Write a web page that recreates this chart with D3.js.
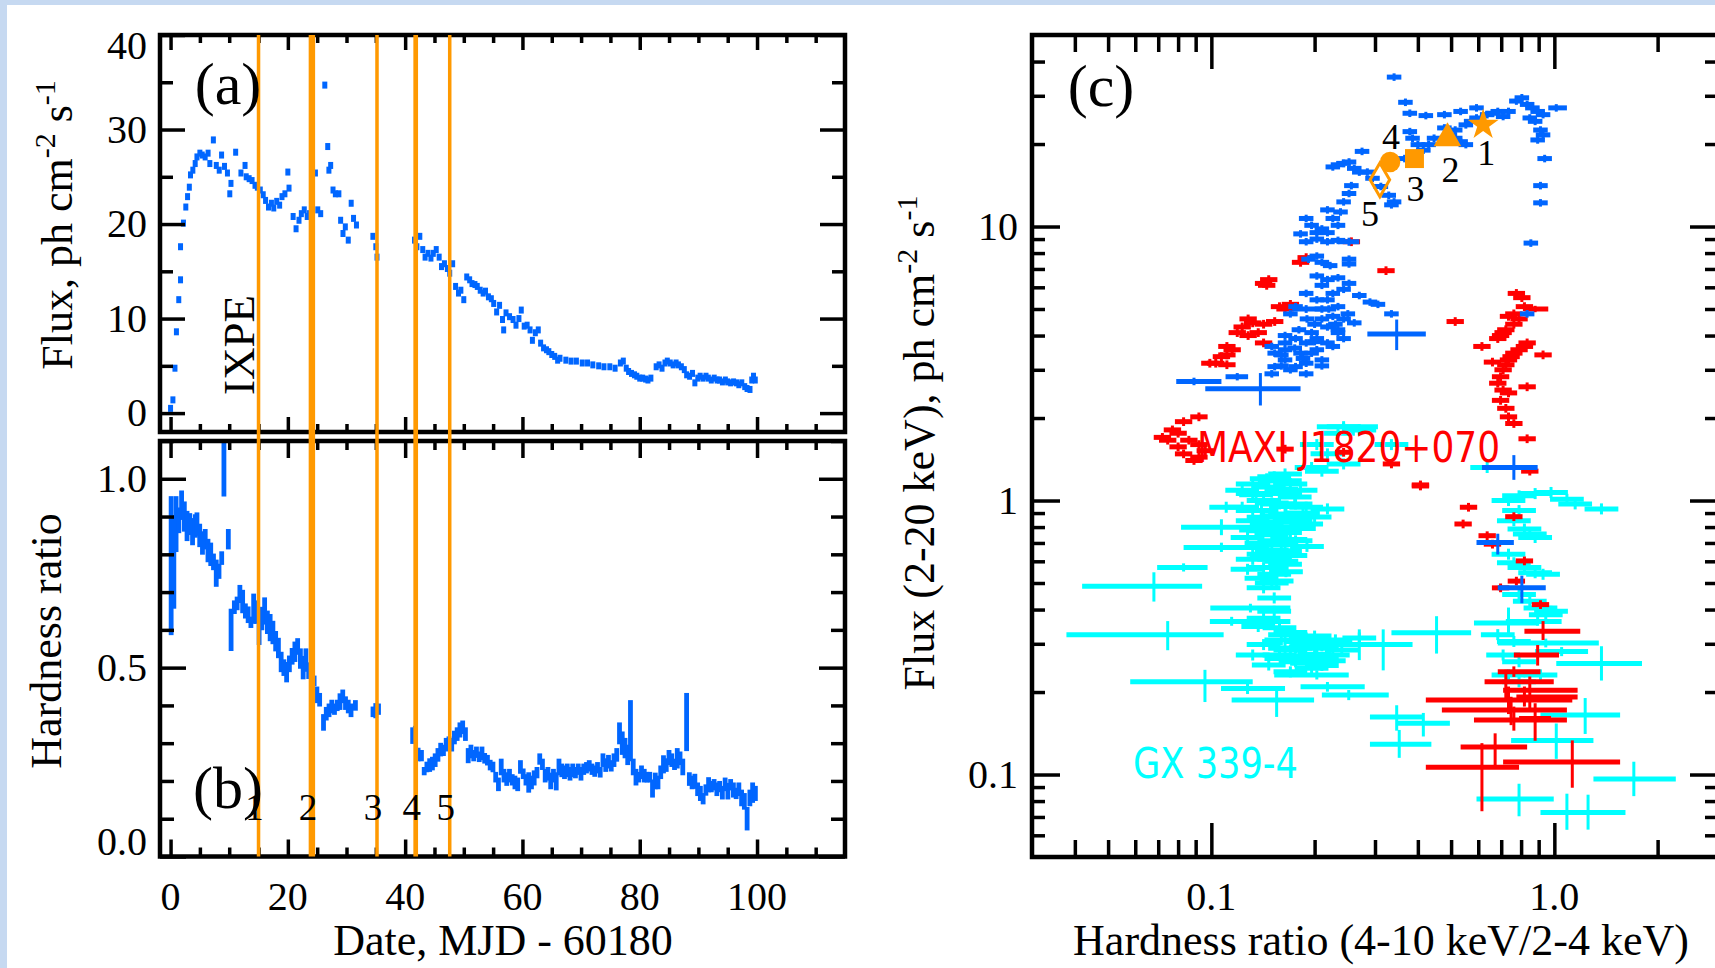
<!DOCTYPE html>
<html lang="en">
<head>
<meta charset="utf-8">
<title>Light curve, hardness ratio and HID</title>
<script src="https://cdn.jsdelivr.net/npm/d3@7"></script>
<style>
  body { margin: 0; background: #c6d9f1; }
  svg { display: block; }
  text { font-family: "Liberation Serif", "Times New Roman", serif; fill: #000; }
  .frame { fill: none; stroke: #000; stroke-width: 4.5; }
  .tick-lbl { font-size: 40px; }
  .title { font-size: 44px; }
  .src { font-family: "Liberation Sans Narrow", "DejaVu Sans Condensed", "Open Sans", sans-serif; font-size: 42px; }
</style>
</head>
<body>
<script>
// ---- panel (a): flux light curve [day, flux] ----
var lightCurve = [[0.0,0.5],[0.4,1.4],[0.75,4.75],[1.0,8.6],[1.4,12.0],[1.7,14.1],[1.7,17.6],[2.2,20.1],[2.6,21.8],[2.9,22.9],[3.2,23.9],[3.4,25.2],[3.8,25.7],[4.2,26.4],[4.5,27.1],[5.0,27.5],[5.4,27.3],[5.9,27.1],[6.4,27.5],[6.7,26.4],[7.3,28.9],[7.8,26.2],[8.3,25.7],[8.7,27.3],[9.2,26.1],[9.7,25.4],[10.1,23.2],[10.3,24.3],[11.1,27.6],[12.0,25.4],[12.7,26.2],[12.9,25.0],[13.4,24.8],[13.9,24.6],[14.4,24.1],[14.8,23.9],[15.3,23.6],[15.8,23.1],[16.2,22.5],[16.7,21.8],[17.2,22.2],[17.6,21.7],[18.1,22.4],[18.6,22.0],[19.0,22.9],[19.5,23.2],[20.0,25.5],[20.2,23.8],[20.9,20.8],[21.4,19.5],[21.9,20.4],[22.3,21.1],[22.8,21.5],[23.3,20.8],[23.7,21.1],[24.2,20.2],[24.7,25.4],[25.1,21.5],[25.6,21.1],[26.3,34.7],[26.8,28.2],[27.0,25.7],[27.3,26.2],[27.7,23.6],[28.1,23.2],[28.7,23.2],[29.0,20.4],[29.4,19.0],[29.8,19.7],[30.3,18.3],[30.8,22.2],[31.2,20.6],[31.7,19.9],[34.5,18.7],[35.0,17.6],[35.2,16.5],[41.6,18.3],[42.0,17.6],[42.5,18.7],[43.0,17.3],[43.4,16.5],[43.9,16.9],[44.4,16.4],[44.8,16.9],[45.3,17.3],[45.8,16.5],[46.2,15.5],[46.7,15.8],[47.2,15.3],[47.6,14.8],[48.1,15.8],[48.6,13.4],[49.1,12.7],[49.5,13.0],[50.0,12.0],[50.5,14.4],[51.0,14.1],[51.4,13.7],[51.9,13.6],[52.3,13.4],[52.8,13.0],[53.3,12.7],[53.7,12.9],[54.2,12.3],[54.7,12.1],[55.1,11.6],[55.6,10.7],[56.1,11.4],[56.6,9.9],[56.8,8.8],[57.2,10.6],[57.8,10.2],[58.4,9.9],[58.9,9.3],[59.4,10.0],[59.8,10.9],[60.3,9.2],[60.8,9.3],[61.3,8.8],[61.7,7.7],[62.2,8.5],[62.7,8.8],[63.1,7.4],[63.6,6.9],[64.1,6.7],[64.5,6.5],[65.0,6.2],[65.5,6.0],[66.0,5.6],[66.4,5.8],[67.4,5.6],[68.3,5.5],[69.2,5.5],[70.2,5.3],[71.1,5.3],[72.0,5.1],[73.0,5.0],[73.9,4.9],[74.9,4.9],[75.8,4.75],[76.7,5.3],[77.2,5.5],[77.7,4.75],[78.1,4.4],[78.6,4.2],[79.1,4.05],[79.5,3.9],[80.0,3.7],[80.5,3.7],[81.0,3.6],[81.4,3.5],[81.9,3.7],[82.8,4.9],[83.3,5.1],[83.8,4.75],[84.3,5.3],[84.7,5.5],[85.2,5.3],[85.7,5.1],[86.2,5.3],[86.6,5.1],[87.1,4.9],[87.6,4.6],[88.0,4.05],[88.5,3.9],[89.0,4.2],[89.4,3.2],[89.9,3.7],[90.3,3.9],[90.8,3.7],[91.3,3.9],[91.7,3.7],[92.2,3.5],[92.7,3.7],[93.2,3.5],[93.6,3.5],[94.1,3.3],[94.6,3.5],[95.0,3.3],[95.5,3.2],[96.0,3.3],[96.5,3.2],[96.9,3.0],[97.4,3.2],[97.9,2.8],[98.3,2.6],[98.8,2.5],[99.1,3.5],[99.4,3.9],[99.7,3.5]];

// ---- panel (b): hardness ratio [day, ratio, error] ----
var hardness = [[0.1,0.77,0.18],[0.56,0.78,0.12],[0.94,0.88,0.07],[1.41,0.89,0.03],[1.88,0.93,0.035],[2.35,0.90,0.036],[2.81,0.875,0.036],[3.28,0.88,0.025],[3.75,0.86,0.032],[4.22,0.875,0.027],[4.5,0.88,0.027],[4.97,0.85,0.027],[5.44,0.83,0.027],[5.91,0.84,0.023],[6.38,0.81,0.027],[6.85,0.80,0.027],[7.32,0.78,0.018],[7.79,0.75,0.032],[8.26,0.755,0.016],[8.72,0.79,0.014],[9.1,1.025,0.068],[9.85,0.84,0.023],[10.32,0.60,0.052],[10.88,0.66,0.014],[11.35,0.67,0.014],[11.82,0.695,0.02],[12.29,0.675,0.027],[12.76,0.65,0.016],[13.23,0.64,0.018],[13.7,0.62,0.011],[14.17,0.656,0.036],[14.63,0.647,0.027],[15.1,0.60,0.036],[15.57,0.63,0.027],[16.04,0.65,0.032],[16.51,0.62,0.027],[16.98,0.606,0.032],[17.45,0.593,0.027],[17.92,0.57,0.023],[18.39,0.552,0.023],[18.86,0.515,0.023],[19.32,0.50,0.018],[19.79,0.488,0.023],[20.26,0.51,0.018],[20.73,0.53,0.018],[21.2,0.542,0.023],[21.67,0.556,0.018],[22.14,0.524,0.023],[22.61,0.50,0.027],[23.08,0.52,0.027],[23.55,0.492,0.018],[24.02,0.477,0.016],[24.48,0.465,0.01],[24.95,0.428,0.018],[25.42,0.415,0.014],[26.08,0.355,0.018],[26.55,0.378,0.014],[27.02,0.387,0.014],[27.49,0.397,0.014],[27.95,0.39,0.011],[28.42,0.40,0.011],[28.89,0.41,0.018],[29.36,0.424,0.014],[29.83,0.406,0.014],[30.3,0.397,0.014],[30.77,0.387,0.014],[31.52,0.40,0.01],[34.52,0.383,0.01],[34.99,0.386,0.016],[35.46,0.39,0.011],[41.28,0.32,0.018],[41.74,0.326,0.016],[42.21,0.27,0.014],[42.78,0.267,0.011],[43.25,0.226,0.007],[43.71,0.237,0.01],[44.18,0.242,0.014],[44.65,0.246,0.014],[45.12,0.255,0.014],[45.59,0.269,0.014],[46.06,0.283,0.014],[46.53,0.281,0.011],[47.0,0.296,0.014],[47.47,0.30,0.014],[47.94,0.296,0.014],[48.4,0.315,0.014],[48.87,0.324,0.014],[49.34,0.335,0.016],[49.81,0.342,0.014],[50.28,0.324,0.014],[50.75,0.267,0.016],[51.22,0.278,0.014],[51.69,0.267,0.011],[52.16,0.276,0.011],[52.63,0.264,0.01],[53.1,0.273,0.014],[53.56,0.26,0.01],[54.03,0.255,0.01],[54.5,0.242,0.01],[54.97,0.237,0.01],[55.44,0.21,0.01],[55.91,0.191,0.014],[56.38,0.237,0.018],[56.85,0.214,0.014],[57.32,0.205,0.014],[57.79,0.214,0.014],[58.26,0.203,0.011],[58.72,0.196,0.014],[59.19,0.191,0.014],[59.66,0.237,0.014],[60.13,0.219,0.01],[60.6,0.203,0.011],[61.07,0.196,0.023],[61.54,0.196,0.014],[62.0,0.208,0.016],[62.48,0.222,0.011],[62.95,0.258,0.011],[63.41,0.244,0.011],[63.88,0.214,0.014],[64.35,0.219,0.014],[64.82,0.20,0.018],[65.29,0.214,0.014],[65.76,0.199,0.02],[66.23,0.237,0.018],[66.7,0.228,0.014],[67.17,0.223,0.014],[67.64,0.228,0.014],[68.11,0.219,0.014],[68.57,0.228,0.014],[69.04,0.222,0.011],[69.51,0.231,0.011],[69.98,0.219,0.014],[70.45,0.231,0.011],[70.92,0.235,0.011],[71.39,0.24,0.011],[71.86,0.231,0.011],[72.33,0.226,0.011],[72.8,0.235,0.011],[73.26,0.223,0.01],[73.73,0.255,0.014],[74.2,0.242,0.014],[74.67,0.251,0.014],[75.14,0.24,0.011],[75.61,0.255,0.014],[76.08,0.269,0.014],[76.55,0.326,0.025],[77.02,0.30,0.027],[77.49,0.287,0.023],[77.95,0.269,0.023],[78.42,0.333,0.077],[78.89,0.237,0.018],[79.36,0.21,0.018],[79.83,0.21,0.01],[80.3,0.223,0.014],[80.77,0.214,0.014],[81.24,0.21,0.01],[81.71,0.21,0.01],[82.18,0.18,0.02],[82.65,0.20,0.018],[83.11,0.196,0.014],[83.58,0.223,0.014],[84.05,0.244,0.02],[84.52,0.242,0.014],[84.99,0.262,0.016],[85.46,0.255,0.014],[85.93,0.244,0.011],[86.4,0.26,0.023],[86.87,0.26,0.014],[87.34,0.237,0.018],[87.99,0.356,0.073],[88.46,0.205,0.014],[88.93,0.196,0.014],[89.4,0.199,0.016],[89.87,0.178,0.014],[90.34,0.167,0.016],[90.81,0.153,0.011],[91.28,0.176,0.011],[91.74,0.19,0.016],[92.21,0.185,0.011],[92.68,0.19,0.011],[93.15,0.178,0.014],[93.62,0.185,0.011],[94.09,0.169,0.014],[94.56,0.191,0.014],[95.03,0.173,0.018],[95.5,0.19,0.011],[95.97,0.176,0.016],[96.44,0.167,0.011],[96.9,0.178,0.014],[97.37,0.155,0.018],[97.84,0.146,0.018],[98.31,0.10,0.027],[98.78,0.155,0.018],[99.25,0.169,0.023],[99.72,0.167,0.016]];

// IXPE observation windows [start, end] (days) and their labels
var ixpeWindows = [[14.7,15.3],[23.55,24.65],[34.9,35.5],[41.4,42.2],[47.3,47.9]];
var ixpeLabels = ["1","2","3","4","5"];

// ---- panel (c): hardness-intensity diagram ----
// IXPE epochs [hardness, flux]
var ixpePoints = [[0.62,23.5],[0.488,21.0],[0.391,17.7],[0.332,17.2],[0.31,14.8]];
var ixpeShapes = ["star","triangle","square","circle","diamond"];

// Swift J1727.8-1613 (blue): [hardness, flux] and [hr, hrLo, hrHi, flux, fLo, fHi]
var swiftPts = [[0.341,35.1],[0.368,28.4],[0.379,25.9],[0.422,25.4],[0.478,25.6],[0.533,26.3],[0.593,27.1],[0.514,22.5],[0.552,23.5],[0.572,24.2],[0.593,24.9],[0.637,25.6],[0.660,25.9],[0.684,26.3],[0.709,25.2],[0.735,26.3],[0.775,28.7],[0.804,29.5],[0.833,27.9],[0.863,27.1],[0.894,26.3],[0.927,25.6],[0.848,24.9],[0.879,24.2],[0.911,22.5],[0.927,21.6],[0.894,20.7],[0.937,17.7],[0.911,14.1],[0.911,12.2],[0.854,8.7],[0.478,22.9],[0.496,21.6],[0.514,21.0],[0.533,20.4],[0.552,19.9],[0.446,21.0],[0.430,19.9],[0.379,22.2],[0.386,21.0],[0.400,19.9],[0.415,19.0],[0.386,18.2],[0.366,17.7],[0.275,18.8],[0.252,17.2],[0.234,16.8],[0.226,16.5],[0.243,17.0],[0.261,16.3],[0.270,15.8],[0.285,15.8],[0.295,15.0],[0.312,14.0],[0.329,13.0],[0.341,12.3],[0.335,12.0],[0.256,14.1],[0.252,13.2],[0.243,12.3],[0.238,11.3],[0.218,11.5],[0.226,10.7],[0.234,10.1],[0.189,10.7],[0.196,10.1],[0.203,9.5],[0.182,9.4],[0.210,9.8],[0.218,9.5],[0.203,9.0],[0.218,8.8],[0.234,8.9],[0.189,8.8],[0.203,7.8],[0.210,7.4],[0.222,7.2],[0.192,7.6],[0.252,7.6],[0.252,7.3],[0.203,6.6],[0.218,6.4],[0.234,6.5],[0.252,6.2],[0.210,6.1],[0.226,5.7],[0.243,5.9],[0.270,5.6],[0.290,5.3],[0.306,5.2],[0.335,4.8],[0.218,5.4],[0.234,5.1],[0.210,5.0],[0.226,4.7],[0.243,4.6],[0.261,4.45],[0.218,4.3],[0.234,4.2],[0.164,4.0],[0.176,3.9],[0.189,3.76],[0.203,3.9],[0.218,3.76],[0.234,4.1],[0.150,3.65],[0.164,3.55],[0.182,3.45],[0.196,3.45],[0.210,3.26],[0.164,3.26],[0.176,3.08],[0.189,3.17],[0.153,3.08],[0.170,3.0],[0.176,5.1],[0.203,5.4],[0.189,5.7],[0.164,3.76],[0.203,3.55],[0.226,3.65],[0.153,3.45],[0.196,4.1],[0.210,4.6],[0.243,3.9],[0.189,2.9],[0.833,4.8],[0.17,4.8],[0.19,4.6],[0.2,4.4],[0.22,5.0],[0.18,4.2],[0.16,3.4],[0.185,3.3],[0.21,3.1],[0.175,3.6],[0.2,3.8],[0.23,4.4],[0.25,4.8],[0.16,3.1],[0.15,2.9]];
var swiftBars = [[0.347,0.285,0.422,4.05,3.6,4.5],[0.139,0.096,0.182,2.56,2.26,2.87],[0.089,0.079,0.107,2.72,2.68,2.76],[0.119,0.11,0.128,2.83,2.79,2.87],[0.762,0.615,0.894,1.32,1.21,1.44],[0.684,0.593,0.762,0.703,0.646,0.744],[0.804,0.684,0.944,0.48,0.429,0.523],[0.252,0.234,0.27,8.8,8.65,8.95],[1.013,0.96,1.088,27.1,26.7,27.5],[0.189,0.172,0.21,5.0,4.92,5.08]];

// MAXI J1820+070 (red)
var maxiPts = [[0.189,7.7],[0.182,7.4],[0.147,6.4],[0.142,6.2],[0.145,6.1],[0.158,5.1],[0.164,5.0],[0.170,5.2],[0.128,4.6],[0.132,4.45],[0.123,4.3],[0.142,4.4],[0.153,4.5],[0.119,4.1],[0.128,4.0],[0.137,4.1],[0.142,3.76],[0.111,3.65],[0.115,3.55],[0.107,3.35],[0.111,3.4],[0.103,3.17],[0.111,3.13],[0.099,3.17],[0.323,6.9],[0.256,8.8],[0.514,4.5],[0.092,2.02],[0.083,1.94],[0.077,1.81],[0.080,1.76],[0.0746,1.66],[0.086,1.66],[0.092,1.60],[0.080,1.57],[0.083,1.48],[0.089,1.40],[0.092,1.44],[0.072,1.7],[0.096,1.52],[0.164,1.54],[0.243,1.50],[0.335,1.36],[0.407,1.13],[0.775,5.7],[0.804,5.5],[0.818,5.1],[0.762,4.8],[0.735,4.7],[0.789,4.6],[0.762,4.4],[0.722,4.2],[0.709,4.1],[0.697,4.0],[0.684,3.9],[0.833,3.76],[0.818,3.65],[0.789,3.55],[0.762,3.45],[0.748,3.35],[0.735,3.26],[0.927,3.4],[0.660,3.2],[0.722,3.13],[0.709,3.0],[0.697,2.83],[0.684,2.68],[0.833,2.6],[0.709,2.53],[0.735,2.47],[0.697,2.32],[0.722,2.17],[0.735,2.02],[0.762,1.91],[0.615,3.65],[0.833,1.68],[0.848,1.28],[0.407,1.14],[0.562,0.945],[0.542,0.821],[0.762,0.873],[0.637,0.744],[0.660,0.693],[0.818,0.602],[0.775,0.508],[0.911,0.417],[0.697,0.480]];
var maxiBars = [[0.927,0.818,1.19,0.333,0.315,0.357],[0.894,0.762,1.032,0.273,0.254,0.292],[0.722,0.626,0.996,0.218,0.189,0.237],[0.735,0.422,1.128,0.187,0.169,0.206],[0.748,0.47,1.088,0.172,0.154,0.189],[0.762,0.583,1.088,0.158,0.147,0.174],[0.879,0.789,0.978,0.16,0.135,0.179],[0.848,0.709,1.169,0.203,0.174,0.224],[0.672,0.533,0.833,0.126,0.1095,0.139],[0.615,0.422,0.789,0.1063,0.0747,0.128],[1.128,0.709,1.555,0.111,0.091,0.131],[0.818,0.775,1.169,0.192,0.18,0.206],[0.762,0.684,0.911,0.237,0.231,0.244],[0.879,0.818,0.96,5.0,4.95,5.05]];

// GX 339-4 (cyan)
var gxPts = [[0.243,1.86],[0.270,1.81],[0.234,1.76],[0.203,1.60],[0.218,1.48],[0.196,1.32],[0.164,1.25],[0.132,1.15],[0.153,1.18],[0.210,1.28],[0.243,1.36],[0.335,1.60],[0.637,1.32],[0.1525,1.22],[0.1638,1.18],[0.147,1.12],[0.132,1.06],[0.123,1.09],[0.164,1.06],[0.182,1.09],[0.142,1.0],[0.158,0.972],[0.176,0.972],[0.189,0.945],[0.218,0.932],[0.123,0.945],[0.132,0.919],[0.1105,0.945],[0.164,0.893],[0.142,0.868],[0.1525,0.833],[0.132,0.844],[0.176,0.844],[0.189,0.821],[0.142,0.776],[0.164,0.765],[0.1275,0.733],[0.1525,0.713],[0.176,0.713],[0.132,0.674],[0.164,0.655],[0.142,0.637],[0.1525,0.610],[0.132,0.610],[0.164,0.585],[0.142,0.569],[0.1275,0.561],[0.1525,0.538],[0.155,0.508],[0.142,0.480],[0.1525,0.441],[0.1525,0.394],[0.142,0.372],[0.137,0.347],[0.158,0.343],[0.164,0.324],[0.189,0.315],[0.218,0.306],[0.142,0.298],[0.176,0.289],[0.203,0.289],[0.158,0.273],[0.189,0.266],[0.132,0.273],[0.226,0.273],[0.176,0.258],[0.147,0.251],[0.196,0.244],[0.170,0.237],[0.182,0.306],[0.164,0.289],[0.21,0.266],[0.27,0.315],[0.944,0.383],[0.735,1.0],[0.789,1.04],[0.879,1.06],[0.978,1.07],[1.088,1.01],[1.15,0.972],[1.372,0.932],[0.789,0.919],[0.762,0.844],[0.818,0.787],[0.848,0.754],[0.879,0.733],[0.735,0.637],[0.762,0.593],[0.818,0.569],[0.879,0.545],[0.927,0.538],[0.789,0.454],[0.848,0.429],[0.911,0.405],[0.978,0.394],[0.735,0.231],[0.789,0.218],[0.709,0.273],[0.789,0.258],[0.911,0.231],[0.684,0.324],[0.762,0.306],[0.145,1.2],[0.17,1.15],[0.16,1.1],[0.135,1.05],[0.175,1.03],[0.15,0.98],[0.165,0.95],[0.14,0.92],[0.185,0.9],[0.155,0.88],[0.17,0.86],[0.2,0.87],[0.145,0.81],[0.16,0.8],[0.18,0.79],[0.135,0.78],[0.15,0.75],[0.17,0.72],[0.14,0.7],[0.16,0.69],[0.19,0.68],[0.15,0.66],[0.17,0.63],[0.145,0.62],[0.16,0.6],[0.15,0.57],[0.165,0.55],[0.15,0.5],[0.14,0.52],[0.17,0.33],[0.2,0.32],[0.23,0.31],[0.16,0.31],[0.19,0.3],[0.21,0.295],[0.17,0.285],[0.24,0.285],[0.2,0.275],[0.18,0.27],[0.22,0.26],[0.16,0.265],[0.19,0.255],[0.21,0.25]];
var gxBars = [[0.107,0.0816,0.132,0.798,0.76,0.84],[0.107,0.083,0.132,0.674,0.66,0.69],[0.083,0.0695,0.0975,0.569,0.56,0.58],[0.068,0.042,0.094,0.487,0.435,0.538],[0.13,0.0993,0.17,0.405,0.397,0.413],[0.1146,0.099,0.17,0.362,0.355,0.37],[0.0746,0.0378,0.1086,0.324,0.289,0.357],[0.4535,0.335,0.572,0.329,0.281,0.372],[0.27,0.234,0.335,0.298,0.266,0.333],[0.317,0.27,0.386,0.298,0.244,0.333],[0.0958,0.058,0.132,0.218,0.187,0.237],[0.1275,0.1067,0.164,0.206,0.2,0.212],[0.155,0.1146,0.1993,0.187,0.165,0.206],[0.203,0.1525,0.2515,0.231,0.226,0.236],[0.218,0.182,0.28,0.209,0.204,0.214],[0.2515,0.21,0.329,0.195,0.19,0.2],[0.347,0.29,0.415,0.162,0.147,0.176],[0.415,0.347,0.496,0.154,0.14,0.165],[0.353,0.29,0.438,0.129,0.117,0.143],[0.789,0.593,0.996,0.0814,0.0716,0.091],[1.088,0.911,1.612,0.0726,0.0639,0.0837],[1.254,1.0,1.45,0.0726,0.064,0.083],[1.705,1.3,2.26,0.0963,0.0848,0.1095],[1.013,0.748,1.3,0.133,0.116,0.151],[1.23,0.911,1.555,0.165,0.143,0.187],[1.372,1.013,1.801,0.254,0.224,0.289],[1.05,0.879,1.254,0.281,0.275,0.287],[0.944,0.684,1.348,0.302,0.296,0.308],[0.735,0.583,0.894,0.357,0.324,0.4],[0.894,0.722,1.05,0.362,0.355,0.37],[0.243,0.203,0.306,1.86,1.83,1.89]];

// axis ticks and labels
var dayTicks = [0, 20, 40, 60, 80, 100];
var fluxTicks = [0, 10, 20, 30, 40];
var hrTicks = [0.0, 0.5, 1.0];
var hidXTicks = [0.1, 1.0], hidXLabels = ["0.1", "1.0"];
var hidYTicks = [0.1, 1, 10], hidYLabels = ["0.1", "1", "10"];

var BLUE = "#0066ff", ORANGE = "#ff9900", RED = "#ff0000", CYAN = "#00ffff";

var svg = d3.select("body").append("svg").attr("width", 1715).attr("height", 968);
svg.append("rect").attr("x", 7).attr("y", 5).attr("width", 1715).attr("height", 968).attr("fill", "#fff");

// scales
var x = d3.scaleLinear().domain([-1.8, 115]).range([160, 845]);
var yFlux = d3.scaleLinear().domain([-2, 40]).range([432, 35]);
var yHr = d3.scaleLinear().domain([0, 1.1]).range([856.5, 441]);
var xHid = d3.scaleLog().domain([0.03, 3]).range([1032, 1718]);
var yHid = d3.scaleLog().domain([0.05, 50]).range([857, 35]);

var defs = svg.append("defs");
function clip(id, x0, y0, x1, y1) {
  defs.append("clipPath").attr("id", id).append("rect")
    .attr("x", x0).attr("y", y0).attr("width", x1 - x0).attr("height", y1 - y0);
}
clip("clipA", 160, 35, 845, 432);
clip("clipB", 160, 441, 845, 856.5);
clip("clipC", 1032, 35, 1718, 857);

function ticks(g, axis, vals, len) {
  g.call(axis.tickValues(vals).tickSize(-len).tickFormat(""));
  g.select(".domain").remove();
  g.selectAll(".tick line").attr("stroke", "#000").attr("stroke-width", 3.5);
}
function frameTicks(xs, ys, x0, x1, y0, y1, xMaj, xMin, yMaj, yMin, lens) {
  ticks(svg.append("g").attr("transform", "translate(0," + y1 + ")"), d3.axisBottom(xs), xMaj, lens[0]);
  ticks(svg.append("g").attr("transform", "translate(0," + y1 + ")"), d3.axisBottom(xs), xMin, lens[1]);
  ticks(svg.append("g").attr("transform", "translate(0," + y0 + ")"), d3.axisTop(xs), xMaj, lens[0]);
  ticks(svg.append("g").attr("transform", "translate(0," + y0 + ")"), d3.axisTop(xs), xMin, lens[1]);
  ticks(svg.append("g").attr("transform", "translate(" + x0 + ",0)"), d3.axisLeft(ys), yMaj, lens[2]);
  ticks(svg.append("g").attr("transform", "translate(" + x0 + ",0)"), d3.axisLeft(ys), yMin, lens[3]);
  ticks(svg.append("g").attr("transform", "translate(" + x1 + ",0)"), d3.axisRight(ys), yMaj, lens[2]);
  ticks(svg.append("g").attr("transform", "translate(" + x1 + ",0)"), d3.axisRight(ys), yMin, lens[3]);
  svg.append("rect").attr("class", "frame").attr("x", x0).attr("y", y0)
    .attr("width", x1 - x0).attr("height", y1 - y0);
}

var dayMinor = d3.range(0, 115, 5).filter(function(d) { return d % 20; });

// ---- panel (a) ----
svg.append("g").attr("clip-path", "url(#clipA)").selectAll("rect")
  .data(lightCurve).enter().append("rect")
  .attr("x", function(d) { return x(d[0]) - 2.5; })
  .attr("y", function(d) { return yFlux(d[1]) - 3.5; })
  .attr("width", 5).attr("height", 7).attr("fill", BLUE);
frameTicks(x, yFlux, 160, 845, 35, 432, dayTicks, dayMinor, fluxTicks, [5, 15, 25, 35], [15, 8, 25, 13]);

// ---- panel (b) ----
svg.append("g").attr("clip-path", "url(#clipB)").selectAll("rect")
  .data(hardness).enter().append("rect")
  .attr("x", function(d) { return x(d[0]) - 2.4; })
  .attr("y", function(d) { return yHr(d[1] + d[2]) - 1.5; })
  .attr("width", 4.8)
  .attr("height", function(d) { return yHr(d[1] - d[2]) - yHr(d[1] + d[2]) + 3; })
  .attr("fill", BLUE);
frameTicks(x, yHr, 160, 845, 441, 856.5, dayTicks, dayMinor, hrTicks,
  [0.1, 0.2, 0.3, 0.4, 0.6, 0.7, 0.8, 0.9, 1.1], [17, 9, 26, 14]);

// IXPE windows across (a) and (b)
svg.append("g").selectAll("rect").data(ixpeWindows).enter().append("rect")
  .attr("x", function(d) { return x(d[0]); })
  .attr("width", function(d) { return x(d[1]) - x(d[0]); })
  .attr("y", 35).attr("height", 821.5).attr("fill", ORANGE);
svg.append("g").selectAll("text").data(ixpeWindows).enter().append("text")
  .attr("x", function(d) { return x((d[0] + d[1]) / 2) - 4; })
  .attr("y", 820).attr("text-anchor", "middle").attr("font-size", 37)
  .text(function(d, i) { return ixpeLabels[i]; });

// tick labels (a), (b)
svg.append("g").selectAll("text").data(dayTicks).enter().append("text")
  .attr("class", "tick-lbl").attr("x", function(d) { return x(d); }).attr("y", 910)
  .attr("text-anchor", "middle").text(function(d) { return d; });
svg.append("g").selectAll("text").data(fluxTicks).enter().append("text")
  .attr("class", "tick-lbl").attr("x", 147).attr("text-anchor", "end")
  .attr("y", function(d) { return Math.max(yFlux(d), 46) + 13; })
  .text(function(d) { return d; });
svg.append("g").selectAll("text").data(hrTicks).enter().append("text")
  .attr("class", "tick-lbl").attr("x", 147).attr("text-anchor", "end")
  .attr("y", function(d) { return Math.min(yHr(d), 842) + 13; })
  .text(function(d) { return d3.format(".1f")(d); });

// panel letters and IXPE tag
svg.append("text").attr("x", 228).attr("y", 104).attr("text-anchor", "middle").attr("font-size", 60).text("(a)");
svg.append("text").attr("x", 228).attr("y", 808).attr("text-anchor", "middle").attr("font-size", 60).text("(b)");
svg.append("text").attr("x", 1101).attr("y", 106).attr("text-anchor", "middle").attr("font-size", 60).text("(c)");
svg.append("text").attr("transform", "translate(254,345) rotate(-90)")
  .attr("text-anchor", "middle").attr("font-size", 45).text("IXPE");

// axis titles
function fluxTitle(t, lead) {
  t.append("tspan").text(lead + "ph cm");
  t.append("tspan").attr("dy", -17).attr("font-size", 30).text("-2");
  t.append("tspan").attr("dy", 17).text(" s");
  t.append("tspan").attr("dy", -17).attr("font-size", 30).text("-1");
}
fluxTitle(svg.append("text").attr("class", "title").attr("text-anchor", "middle")
  .attr("transform", "translate(72,225) rotate(-90)"), "Flux, ");
svg.append("text").attr("class", "title").attr("text-anchor", "middle")
  .attr("transform", "translate(61,641) rotate(-90)").text("Hardness ratio");
svg.append("text").attr("class", "title").attr("text-anchor", "middle")
  .attr("x", 503).attr("y", 955).text("Date, MJD - 60180");
fluxTitle(svg.append("text").attr("class", "title").attr("text-anchor", "middle")
  .attr("transform", "translate(934,443) rotate(-90)"), "Flux (2-20 keV), ");
svg.append("text").attr("class", "title").attr("text-anchor", "middle")
  .attr("x", 1381).attr("y", 955).text("Hardness ratio (4-10 keV/2-4 keV)");

// ---- panel (c) ----
var gC = svg.append("g").attr("clip-path", "url(#clipC)");
function crosses(pts, bars, color, ex, ey) {
  var rows = pts.map(function(p) { return [p[0], p[0] / ex, p[0] * ex, p[1], p[1] / ey, p[1] * ey]; }).concat(bars);
  var g = gC.append("g").attr("stroke", color);
  g.selectAll("line.h").data(rows).enter().append("line").attr("class", "h")
    .attr("x1", function(d) { return xHid(d[1]); }).attr("x2", function(d) { return xHid(d[2]); })
    .attr("y1", function(d) { return yHid(d[3]); }).attr("y2", function(d) { return yHid(d[3]); })
    .attr("stroke-width", 5);
  g.selectAll("line.v").data(rows).enter().append("line").attr("class", "v")
    .attr("x1", function(d) { return xHid(d[0]); }).attr("x2", function(d) { return xHid(d[0]); })
    .attr("y1", function(d) { return yHid(d[4]) + 2; }).attr("y2", function(d) { return yHid(d[5]) - 2; })
    .attr("stroke-width", 3);
}
crosses(gxPts, gxBars, CYAN, 1.12, 1.03);
crosses(maxiPts, maxiBars, RED, 1.06, 1.02);
crosses(swiftPts, swiftBars, BLUE, 1.05, 1.015);

var shapeMap = { star: [d3.symbolStar, 300], triangle: [d3.symbolTriangle, 330], square: [d3.symbolSquare, 360],
  circle: [d3.symbolCircle, 330], diamond: [d3.symbolDiamond, 330] };
gC.selectAll("path.ixpe").data(ixpePoints).enter().append("path").attr("class", "ixpe")
  .attr("transform", function(d) { return "translate(" + xHid(d[0]) + "," + yHid(d[1]) + ")"; })
  .attr("d", function(d, i) { var s = shapeMap[ixpeShapes[i]]; return d3.symbol(s[0], s[1])(); })
  .attr("fill", function(d, i) { return ixpeShapes[i] === "diamond" ? "none" : ORANGE; })
  .attr("stroke", ORANGE).attr("stroke-width", function(d, i) { return ixpeShapes[i] === "diamond" ? 3 : 0; });
var lblOff = [[3, 40], [3, 44], [1, 42], [1, -13], [-10, 46]];
gC.selectAll("text.ixl").data(ixpePoints).enter().append("text").attr("class", "ixl")
  .attr("x", function(d, i) { return xHid(d[0]) + lblOff[i][0]; })
  .attr("y", function(d, i) { return yHid(d[1]) + lblOff[i][1]; })
  .attr("text-anchor", "middle").attr("font-size", 36).text(function(d, i) { return ixpeLabels[i]; });

svg.append("text").attr("class", "src").attr("x", 1197).attr("y", 462).style("fill", RED)
  .attr("textLength", 303).attr("lengthAdjust", "spacingAndGlyphs").text("MAXI J1820+070");
svg.append("text").attr("class", "src").attr("x", 1133).attr("y", 778).style("fill", CYAN)
  .attr("textLength", 165).attr("lengthAdjust", "spacingAndGlyphs").text("GX 339-4");

frameTicks(xHid, yHid, 1032, 1718, 35, 857, hidXTicks,
  [0.04, 0.05, 0.06, 0.07, 0.08, 0.09, 0.2, 0.3, 0.4, 0.5, 0.6, 0.7, 0.8, 0.9, 2],
  hidYTicks, [0.06, 0.07, 0.08, 0.09, 0.2, 0.3, 0.4, 0.5, 0.6, 0.7, 0.8, 0.9, 2, 3, 4, 5, 6, 7, 8, 9, 20, 30, 40],
  [34, 17, 28, 13]);

svg.append("g").selectAll("text").data(hidXTicks).enter().append("text")
  .attr("class", "tick-lbl").attr("x", function(d) { return xHid(d); }).attr("y", 910)
  .attr("text-anchor", "middle").text(function(d, i) { return hidXLabels[i]; });
svg.append("g").selectAll("text").data(hidYTicks).enter().append("text")
  .attr("class", "tick-lbl").attr("x", 1018).attr("text-anchor", "end")
  .attr("y", function(d) { return yHid(d) + 13; })
  .text(function(d, i) { return hidYLabels[i]; });
</script>
</body>
</html>
